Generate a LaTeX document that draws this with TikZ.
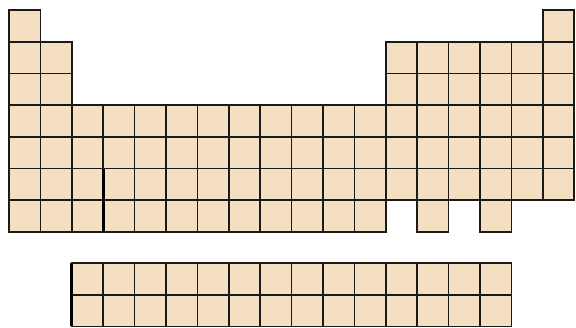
\documentclass[tikz,border=0pt]{standalone}
\usepackage{tikz}
\usetikzlibrary{calc}
\definecolor{celltan}{RGB}{244,224,192}
\definecolor{cellline}{RGB}{26,26,26}

\begin{document}
\begin{tikzpicture}[x=1pt, y=-1pt]
		\tikzset{cell/.style={draw=cellline, fill=celltan, line width=1.6pt, minimum width=31.4pt, minimum height=31.7pt, inner sep=0pt, outer sep=0pt}}
		\tikzset{gap/.style={line width=3pt, draw=black}}
		\useasboundingbox (0,0) rectangle (576,327);
		\foreach \r/\cols in {1/{1,18}, 2/{1,2,13,14,15,16,17,18}, 3/{1,2,13,14,15,16,17,18}, 4/{1,...,18}, 5/{1,...,18}, 6/{1,...,18}, 7/{1,...,12,14,16}}
			\foreach \c in \cols
				\node[cell] (c-\r-\c) at ({9+(\c-0.5)*31.4}, {10+(\r-0.5)*31.7}) {};
		\foreach \r in {1,2}
			\foreach \c in {3,...,16}
				\node[cell] (f-\r-\c) at ({9+(\c-0.5)*31.4}, {263+(\r-0.5)*31.7}) {};
		\draw[gap] (c-6-4.north west) -- (c-7-4.south west);
		\draw[gap] (f-1-3.north west) -- (f-2-3.south west);
	\end{tikzpicture}
\end{document}
